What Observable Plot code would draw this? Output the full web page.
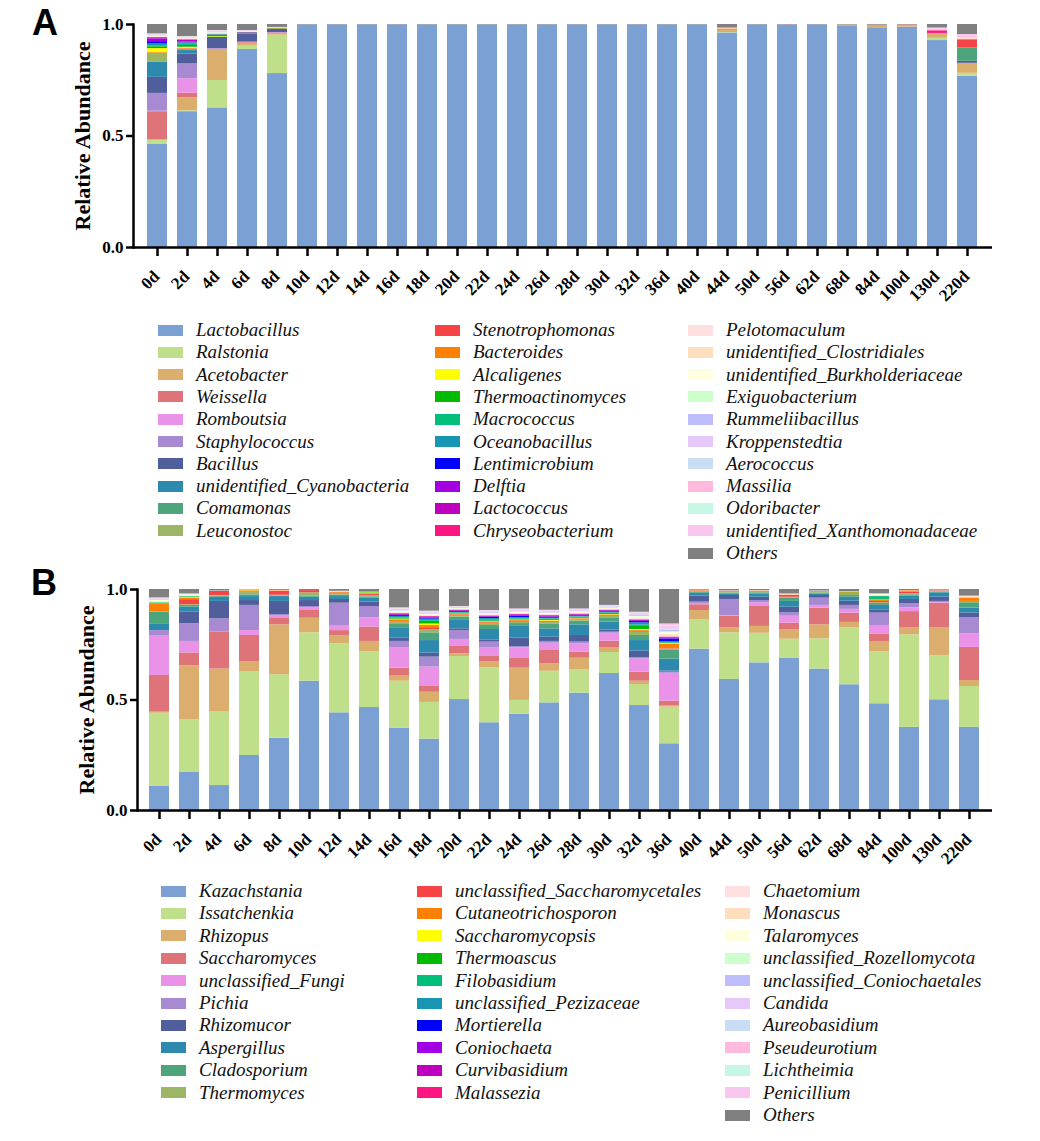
<!DOCTYPE html>
<html><head><meta charset="utf-8">
<script src="https://cdn.jsdelivr.net/npm/d3@7"></script>
<script src="https://cdn.jsdelivr.net/npm/@observablehq/plot@0.6"></script>
<style>
body{margin:0;background:#fff;}
#page{position:relative;width:1040px;height:1141px;overflow:hidden;background:#fff;}
.panel{position:absolute;left:0;}
.letter{position:absolute;font-family:"Liberation Sans",Arial,sans-serif;font-weight:bold;font-size:36px;line-height:1;color:#000;}
.item{position:absolute;display:flex;align-items:center;height:22px;white-space:nowrap;font-family:"Liberation Serif","Times New Roman",serif;font-style:italic;font-size:19px;color:#111;}
.sw{width:25px;height:11px;margin-right:13px;flex:none;}
</style></head><body><div id="page"></div>
<script>
// ---------- shared categories ----------
const days = ["0d","2d","4d","6d","8d","10d","12d","14d","16d","18d","20d","22d","24d","26d","28d","30d","32d","36d","40d","44d","50d","56d","62d","68d","84d","100d","130d","220d"];
const yTicks = [0, 0.5, 1];
const palette = ["#7BA0D4","#BFDF8A","#DCAE6E","#DE7479","#EA92E8","#A88AD2","#515E9C","#2E89AE","#4EA57C","#9CB666",
  "#F64346","#FF7F00","#FFFF00","#00BB00","#00BF7A","#1696B2","#0000FF","#A200E2","#C000C0","#FF1682",
  "#FFDFE0","#FFDEBD","#FFFFDF","#CCFFCC","#BEBEFF","#E6C8FA","#C9DDF5","#FFB9DC","#C6F7E4","#F9C6F0","#808080"];

// ---------- Panel A (bacteria) ----------
const bacTaxa = ["Lactobacillus","Ralstonia","Acetobacter","Weissella","Romboutsia","Staphylococcus","Bacillus","unidentified_Cyanobacteria","Comamonas","Leuconostoc",
  "Stenotrophomonas","Bacteroides","Alcaligenes","Thermoactinomyces","Macrococcus","Oceanobacillus","Lentimicrobium","Delftia","Lactococcus","Chryseobacterium",
  "Pelotomaculum","unidentified_Clostridiales","unidentified_Burkholderiaceae","Exiguobacterium","Rummeliibacillus","Kroppenstedtia","Aerococcus","Massilia","Odoribacter","unidentified_Xanthomonadaceae","Others"];
const aLactobacillus = [0.464,0.609,0.626,0.888,0.780,0.998,0.998,0.998,0.998,0.998,0.998,0.998,0.998,0.998,0.998,0.998,0.998,0.998,0.998,0.962,0.998,0.996,0.998,0.991,0.982,0.988,0.928,0.768];
const aRalstonia = [0.018,0.004,0.123,0.015,0.172,0,0,0,0,0,0,0,0,0,0,0,0,0,0,0.002,0,0,0,0,0,0,0.010,0.013];
const aAcetobacter = [0,0.059,0.136,0.013,0.008,0,0,0,0,0,0,0,0,0,0,0,0,0,0,0.010,0,0,0,0.007,0.015,0.006,0.022,0.045];
const aWeissella = [0.127,0.020,0.004,0.003,0.002,0,0,0,0,0,0,0,0,0,0,0,0,0,0,0,0,0,0,0,0,0.004,0,0];
const aRomboutsia = [0.002,0.065,0,0,0,0,0,0,0,0,0,0,0,0,0,0,0,0,0,0,0,0,0,0,0,0,0,0];
const aStaphylococcus = [0.080,0.066,0.003,0.002,0.002,0,0,0,0,0,0,0,0,0,0,0,0,0,0,0,0,0.002,0,0,0,0,0,0];
const aBacillus = [0.072,0.045,0.050,0.036,0.015,0,0,0,0,0,0,0,0,0,0,0,0,0,0,0,0,0,0,0,0,0,0,0.009];
const aCyanobacteria = [0.069,0.015,0,0,0,0,0,0,0,0,0,0,0,0,0,0,0,0,0,0,0,0,0,0,0,0,0,0];
const aComamonas = [0,0.003,0,0,0,0,0,0,0,0,0,0,0,0,0,0,0,0,0,0,0,0,0,0,0,0,0,0.060];
const aLeuconostoc = [0.039,0,0,0,0,0,0,0,0,0,0,0,0,0,0,0,0,0,0,0,0,0,0,0,0,0,0,0];
const aStenotrophomonas = [0,0.004,0,0,0,0,0,0,0,0,0,0,0,0,0,0,0,0,0,0,0,0,0,0,0,0,0,0.036];
const aBacteroides = [0.003,0.002,0,0,0.002,0,0,0,0,0,0,0,0,0,0,0,0,0,0,0.006,0,0,0,0,0,0,0,0.003];
const aAlcaligenes = [0.018,0.006,0.003,0,0,0,0,0,0,0,0,0,0,0,0,0,0,0,0,0,0,0,0,0,0,0,0,0];
const aThermoactinomyces = [0.008,0.008,0.007,0.005,0.002,0,0,0,0,0,0,0,0,0,0,0,0,0,0,0,0,0,0,0,0,0,0,0];
const aMacrococcus = [0.005,0.008,0.002,0,0,0,0,0,0,0,0,0,0,0,0,0,0,0,0,0,0,0,0,0,0,0,0,0];
const aOceanobacillus = [0.008,0.004,0,0,0,0,0,0,0,0,0,0,0,0,0,0,0,0,0,0,0,0,0,0,0,0,0,0];
const aLentimicrobium = [0.010,0,0,0,0,0,0,0,0,0,0,0,0,0,0,0,0,0,0,0,0,0,0,0,0,0,0,0];
const aDelftia = [0.012,0.004,0.002,0.002,0,0,0,0,0,0,0,0,0,0,0,0,0,0,0,0,0,0,0,0,0,0,0,0];
const aLactococcus = [0.006,0.008,0,0,0,0,0,0,0,0,0,0,0,0,0,0,0,0,0,0,0,0,0,0,0,0,0,0];
const aChryseobacterium = [0,0.002,0,0,0,0,0,0,0,0,0,0,0,0,0,0,0,0,0,0,0,0,0,0,0,0,0.012,0];
const aPelotomaculum = [0.002,0.002,0.002,0.001,0.001,0,0,0,0,0,0,0,0,0,0,0,0,0,0,0.002,0,0,0,0,0,0,0.002,0.004];
const aClostridiales = [0.002,0.002,0.002,0.001,0.001,0,0,0,0,0,0,0,0,0,0,0,0,0,0,0,0,0,0,0,0,0,0,0];
const aBurkholderiaceae = [0.002,0.002,0.002,0.001,0,0,0,0,0,0,0,0,0,0,0,0,0,0,0,0,0,0,0,0,0,0,0,0.002];
const aExiguobacterium = [0.002,0.001,0.001,0.001,0,0,0,0,0,0,0,0,0,0,0,0,0,0,0,0,0,0,0,0,0,0,0,0];
const aRummeliibacillus = [0.001,0.001,0.002,0.001,0,0,0,0,0,0,0,0,0,0,0,0,0,0,0,0,0,0,0,0,0,0,0,0];
const aKroppenstedtia = [0.002,0.002,0.003,0.001,0.001,0,0,0,0,0,0,0,0,0,0,0,0,0,0,0,0,0,0,0,0,0,0,0];
const aAerococcus = [0.002,0.001,0.001,0.001,0,0,0,0,0,0,0,0,0,0,0,0,0,0,0,0,0,0,0,0,0,0,0,0];
const aMassilia = [0.002,0.001,0.002,0.001,0.001,0,0,0,0,0,0,0,0,0,0,0,0,0,0,0.002,0,0,0,0,0,0,0.006,0.008];
const aOdoribacter = [0.001,0.001,0.001,0,0,0,0,0,0,0,0,0,0,0,0,0,0,0,0,0,0,0,0,0,0,0,0,0];
const aXanthomonadaceae = [0.001,0.001,0.001,0.001,0,0,0,0,0,0,0,0,0,0,0,0,0,0,0,0,0,0,0,0,0,0,0.004,0.007];
const aOthers = [0.042,0.054,0.027,0.027,0.013,0.002,0.002,0.002,0.002,0.002,0.002,0.002,0.002,0.002,0.002,0.002,0.002,0.002,0.002,0.016,0.002,0.002,0.002,0.002,0.003,0.002,0.016,0.045];

// ---------- Panel B (fungi) ----------
const funTaxa = ["Kazachstania","Issatchenkia","Rhizopus","Saccharomyces","unclassified_Fungi","Pichia","Rhizomucor","Aspergillus","Cladosporium","Thermomyces",
  "unclassified_Saccharomycetales","Cutaneotrichosporon","Saccharomycopsis","Thermoascus","Filobasidium","unclassified_Pezizaceae","Mortierella","Coniochaeta","Curvibasidium","Malassezia",
  "Chaetomium","Monascus","Talaromyces","unclassified_Rozellomycota","unclassified_Coniochaetales","Candida","Aureobasidium","Pseudeurotium","Lichtheimia","Penicillium","Others"];
const bKazachstania = [0.109,0.172,0.113,0.249,0.327,0.585,0.442,0.466,0.373,0.323,0.502,0.397,0.436,0.487,0.531,0.620,0.475,0.302,0.730,0.593,0.668,0.688,0.640,0.569,0.483,0.376,0.501,0.376];
const bIssatchenkia = [0.331,0.238,0.335,0.380,0.287,0.219,0.312,0.253,0.212,0.166,0.195,0.249,0.062,0.143,0.107,0.095,0.095,0.166,0.134,0.211,0.134,0.087,0.137,0.258,0.236,0.419,0.199,0.185];
const bRhizopus = [0.005,0.245,0.192,0.045,0.226,0.066,0.038,0.046,0.023,0.046,0.012,0.028,0.146,0.034,0.051,0.020,0.015,0.007,0.041,0.023,0.031,0.044,0.063,0.024,0.043,0.033,0.128,0.027];
const bSaccharomyces = [0.166,0.058,0.167,0.118,0.032,0.038,0.022,0.065,0.036,0.029,0.036,0.023,0.044,0.060,0.027,0.031,0.041,0.020,0.026,0.052,0.093,0.029,0.076,0.042,0.037,0.072,0.110,0.150];
const bFungi = [0.178,0.052,0,0.022,0.010,0.008,0.023,0.042,0.091,0.085,0.029,0.038,0.048,0.033,0.038,0.036,0.060,0.126,0.006,0.003,0.014,0.031,0.012,0.017,0.038,0.017,0.003,0.061];
const bPichia = [0.025,0.080,0.060,0.114,0.003,0.007,0.101,0.051,0.030,0.045,0.040,0.027,0.005,0.008,0.008,0.005,0.005,0.005,0.006,0.073,0.010,0.015,0.033,0.018,0.056,0.018,0.005,0.074];
const bRhizomucor = [0,0.052,0.079,0.022,0.061,0.027,0.017,0.020,0.016,0.018,0.008,0.010,0.039,0.019,0.030,0.010,0.030,0.005,0.027,0.018,0.015,0.026,0.012,0.019,0.015,0.020,0.019,0.021];
const bAspergillus = [0.031,0.023,0.019,0.018,0.022,0.015,0.013,0.019,0.046,0.057,0.038,0.047,0.053,0.038,0.048,0.035,0.048,0.054,0.013,0.007,0.015,0.026,0.007,0.018,0.020,0.015,0.020,0.022];
const bCladosporium = [0.051,0.008,0.004,0.008,0.003,0.004,0.006,0.005,0.018,0.035,0.015,0.018,0.013,0.020,0.017,0.020,0.023,0.042,0.004,0.004,0.005,0.016,0.004,0.008,0.010,0.006,0.003,0.024];
const bThermomyces = [0.003,0.003,0.004,0.010,0.003,0.016,0.006,0.004,0.005,0.013,0.008,0.008,0.006,0.008,0.006,0.007,0.015,0.003,0.004,0.006,0.004,0.003,0.003,0.006,0.002,0.004,0.005,0.003];
const bSaccharomycetales = [0,0.023,0.018,0.003,0.018,0.010,0.004,0.006,0.003,0.010,0.002,0.004,0.005,0.004,0.003,0.003,0.004,0.002,0.002,0.002,0.002,0.008,0.002,0.003,0.006,0.008,0.002,0.003];
const bCutaneotrichosporon = [0.033,0.008,0,0.005,0.002,0,0.004,0.004,0.010,0.010,0.002,0.003,0.003,0.003,0.002,0.003,0.004,0.020,0.002,0,0.002,0.002,0.002,0.003,0.008,0.006,0,0.016];
const bSaccharomycopsis = [0.002,0.002,0,0.001,0,0,0.002,0.003,0.003,0.007,0.002,0.002,0.002,0.003,0.002,0.002,0.004,0.003,0,0,0,0,0,0,0.001,0,0,0];
const bThermoascus = [0.004,0.002,0,0,0,0,0,0.002,0.004,0.012,0.004,0.004,0.004,0.004,0.004,0.004,0.014,0.003,0,0,0,0,0,0.003,0,0,0,0];
const bFilobasidium = [0.002,0.002,0,0,0,0,0,0,0.003,0.004,0.002,0.003,0.003,0.003,0.002,0.003,0.006,0.002,0,0,0,0,0,0,0.013,0,0,0];
const bPezizaceae = [0,0,0,0,0,0,0,0,0.005,0.006,0.002,0.008,0.004,0.003,0.003,0.003,0.010,0.004,0,0,0,0,0,0,0,0,0,0];
const bMortierella = [0,0,0,0,0,0,0,0,0.004,0.004,0.004,0.005,0.006,0.004,0.003,0.003,0.006,0.012,0,0,0,0,0,0,0,0,0,0];
const bConiochaeta = [0,0,0,0,0,0,0,0,0.004,0.003,0.003,0.003,0.004,0.003,0.003,0.003,0.004,0.005,0,0,0,0,0,0,0,0,0,0];
const bCurvibasidium = [0,0,0,0,0,0,0,0,0.003,0.003,0.002,0.002,0.003,0.003,0.002,0.002,0.002,0.002,0,0,0,0,0,0,0,0,0,0];
const bMalassezia = [0,0,0,0,0,0,0,0,0.002,0.002,0.001,0.002,0.002,0.003,0.002,0.002,0.002,0.002,0,0,0,0,0,0,0,0,0,0];
const bChaetomium = [0.004,0.002,0.002,0,0.002,0,0.002,0.002,0.003,0.003,0.002,0.003,0.003,0.003,0.003,0.003,0.004,0.006,0.002,0.002,0.002,0.002,0.002,0.002,0.003,0.001,0.002,0.004];
const bMonascus = [0.002,0.002,0,0.002,0,0,0,0,0.003,0.002,0.002,0.002,0.002,0.002,0.002,0.002,0.004,0.005,0,0,0,0,0,0,0.003,0,0,0.004];
const bTalaromyces = [0.004,0.004,0,0.001,0,0,0,0,0.004,0.004,0.002,0.004,0.004,0.004,0.004,0.003,0.005,0.008,0,0,0,0,0,0,0.006,0,0,0];
const bRozellomycota = [0.002,0,0,0,0,0,0,0,0.002,0.002,0.001,0.002,0.002,0.002,0.002,0.002,0.003,0.005,0,0,0,0,0,0,0,0,0,0];
const bConiochaetales = [0.002,0,0,0,0,0,0,0,0.003,0.003,0.002,0.003,0.003,0.003,0.003,0.003,0.004,0.007,0,0,0,0,0,0,0,0,0,0];
const bCandida = [0.002,0.002,0,0,0,0,0,0,0.003,0.003,0.002,0.003,0.003,0.003,0.003,0.002,0.004,0.006,0,0,0,0,0,0,0,0,0,0];
const bAureobasidium = [0.002,0,0,0,0,0,0,0,0.002,0.002,0.001,0.002,0.002,0.002,0.002,0.002,0.003,0.007,0,0,0,0,0,0,0,0,0,0];
const bPseudeurotium = [0.002,0,0,0,0,0,0,0,0.002,0.002,0.002,0.002,0.002,0.002,0.002,0.002,0.002,0.005,0,0,0,0,0,0,0,0,0,0];
const bLichtheimia = [0.001,0,0,0,0,0,0,0,0.002,0.001,0.001,0.001,0.001,0,0,0,0.002,0.003,0,0,0,0,0,0,0,0,0,0];
const bPenicillium = [0.001,0.002,0,0,0,0,0,0,0.002,0.002,0.001,0.002,0.002,0.002,0.002,0.002,0.003,0.007,0,0,0,0.003,0,0,0,0,0,0];
const bOthers = [0.038,0.020,0.007,0.002,0.004,0.005,0.008,0.012,0.083,0.098,0.077,0.095,0.088,0.094,0.088,0.072,0.103,0.156,0.003,0.006,0.005,0.020,0.007,0.010,0.020,0.005,0.003,0.030];

const bacSeries = [aLactobacillus,aRalstonia,aAcetobacter,aWeissella,aRomboutsia,aStaphylococcus,aBacillus,aCyanobacteria,aComamonas,aLeuconostoc,
  aStenotrophomonas,aBacteroides,aAlcaligenes,aThermoactinomyces,aMacrococcus,aOceanobacillus,aLentimicrobium,aDelftia,aLactococcus,aChryseobacterium,
  aPelotomaculum,aClostridiales,aBurkholderiaceae,aExiguobacterium,aRummeliibacillus,aKroppenstedtia,aAerococcus,aMassilia,aOdoribacter,aXanthomonadaceae,aOthers];
const funSeries = [bKazachstania,bIssatchenkia,bRhizopus,bSaccharomyces,bFungi,bPichia,bRhizomucor,bAspergillus,bCladosporium,bThermomyces,
  bSaccharomycetales,bCutaneotrichosporon,bSaccharomycopsis,bThermoascus,bFilobasidium,bPezizaceae,bMortierella,bConiochaeta,bCurvibasidium,bMalassezia,
  bChaetomium,bMonascus,bTalaromyces,bRozellomycota,bConiochaetales,bCandida,bAureobasidium,bPseudeurotium,bLichtheimia,bPenicillium,bOthers];

const page = document.getElementById("page");
const serif = '"Liberation Serif","Times New Roman",serif';

function drawPanel(taxa, series, o) {
  const rows = [];
  days.forEach((day, i) => taxa.forEach((t, j) => rows.push({day, taxon: t, value: series[j][i]})));
  const H = 312;
  const svg = Plot.plot({
    width: 1040, height: H,
    marginLeft: o.left, marginRight: 1040 - o.right, marginTop: 24, marginBottom: H - o.bottom,
    style: {fontFamily: serif, background: "transparent", color: "#000", overflow: "visible"},
    x: {domain: days, paddingInner: 0.32, paddingOuter: 0.335, axis: null, label: null},
    y: {domain: [0, 1], axis: null, label: null},
    color: {domain: taxa, range: palette},
    marks: [
      Plot.barY(rows, {x: "day", y: "value", fill: "taxon"}),
      Plot.axisY({ticks: yTicks, tickFormat: d3.format(".1f"), tickSize: 7, tickPadding: 3, fontSize: 17, fontWeight: "bold", strokeWidth: 2.5, label: null}),
      Plot.axisX({tickSize: 9, strokeWidth: 2.5, tickFormat: () => "", label: null}),
      Plot.text(days, {x: d => d, text: d => d, frameAnchor: "bottom", dy: 30, dx: 3, rotate: -45, textAnchor: "end", fontSize: 17, fontWeight: "bold"}),
      Plot.ruleY([0], {stroke: "#000", strokeWidth: 2.5}),
      Plot.frame({anchor: "left", stroke: "#000", strokeWidth: 2.5}),
      Plot.text(["Relative Abundance"], {text: d => d, frameAnchor: "left", textAnchor: "middle", dx: -51, rotate: -90, fontSize: 22, fontWeight: "bold"})
    ]
  });
  const wrap = document.createElement("div");
  wrap.className = "panel";
  wrap.style.top = o.top + "px";
  wrap.appendChild(svg);
  page.appendChild(wrap);
}

function drawLegend(taxa, o) {
  taxa.forEach((t, k) => {
    const col = Math.min(2, Math.floor(k / 10));
    const row = k - col * 10;
    const it = document.createElement("div");
    it.className = "item";
    it.style.left = o.swX[col] + "px";
    it.style.top = (o.y0 + row * o.dy - 11) + "px";
    const sw = document.createElement("span");
    sw.className = "sw";
    sw.style.background = palette[k];
    const tx = document.createElement("span");
    tx.textContent = t;
    it.appendChild(sw); it.appendChild(tx);
    page.appendChild(it);
  });
}

function letter(txt, left, top) {
  const d = document.createElement("div");
  d.className = "letter"; d.textContent = txt;
  d.style.left = left + "px"; d.style.top = top + "px";
  page.appendChild(d);
}

drawPanel(bacTaxa, bacSeries, {top: 0, left: 133, right: 992, bottom: 247});
drawLegend(bacTaxa, {swX: [158, 435, 688], y0: 330, dy: 22.3});
drawPanel(funTaxa, funSeries, {top: 565, left: 137, right: 992, bottom: 245});
drawLegend(funTaxa, {swX: [161, 417, 725], y0: 891, dy: 22.4});
letter("A", 32, 5);
letter("B", 31, 565);
</script>
</body></html>
